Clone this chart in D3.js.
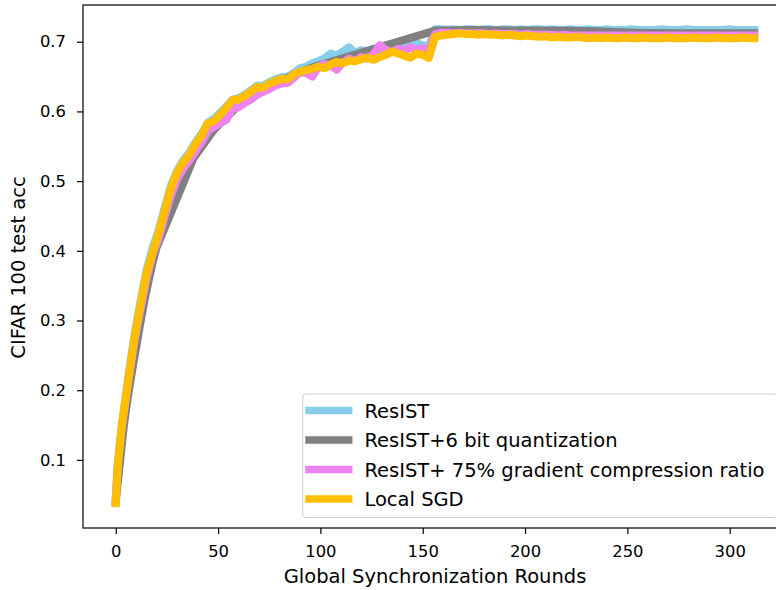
<!DOCTYPE html>
<html>
<head>
<meta charset="utf-8">
<script src="https://cdn.jsdelivr.net/npm/d3@7"></script>
<style>
  body { margin: 0; background: #fff; }
  svg { display: block; font-family: "DejaVu Sans", sans-serif; }
</style>
</head>
<body>
<div id="chart"></div>
<script>
// Chart data
// dense series: round 0, round 1, then every 3 rounds up to 312
const rounds = [0, 1].concat(d3.range(3, 313, 3));

const resistAcc = [
    0.045, 0.095,
    0.150, 0.216, 0.277, 0.326, 0.372, 0.404, 0.430, 0.463, 0.494,
    0.515, 0.530, 0.541, 0.556, 0.568, 0.584, 0.589, 0.598, 0.607, 0.617,
    0.619, 0.624, 0.630, 0.637, 0.637, 0.642, 0.646, 0.649, 0.650, 0.655,
    0.662, 0.664, 0.669, 0.672, 0.676, 0.683, 0.680, 0.686, 0.692, 0.684,
    0.688, 0.686, 0.690, 0.689, 0.691, 0.688, 0.694, 0.695, 0.697, 0.698,
    0.695, 0.693, 0.718, 0.718, 0.717, 0.718, 0.717, 0.718, 0.718, 0.717,
    0.718, 0.718, 0.717, 0.718, 0.718, 0.717, 0.718, 0.717, 0.718, 0.718,
    0.717, 0.718, 0.717, 0.717, 0.718, 0.717, 0.717, 0.718, 0.717, 0.717,
    0.718, 0.717, 0.717, 0.717, 0.718, 0.717, 0.717, 0.717, 0.717, 0.718,
    0.717, 0.717, 0.717, 0.718, 0.717, 0.717, 0.717, 0.717, 0.717, 0.717,
    0.718, 0.717, 0.717, 0.717, 0.717
];

// the quantized run was logged less often
const quantRounds = [0, 2, 4, 6, 8, 10, 12, 14, 16, 18, 20, 38, 48, 58, 68, 78, 87, 97,
    156, 175, 195, 215, 234, 254, 273, 293, 312];
const quantAcc = [0.040, 0.095, 0.150, 0.192, 0.228, 0.262, 0.296, 0.328, 0.356, 0.383, 0.405,
    0.533, 0.574, 0.603, 0.624, 0.640, 0.652, 0.664,
    0.716, 0.717, 0.716, 0.716, 0.715, 0.713, 0.712, 0.712, 0.712];

const compressAcc = [
    0.045, 0.095,
    0.148, 0.210, 0.268, 0.315, 0.360, 0.395, 0.418, 0.450, 0.480,
    0.503, 0.518, 0.530, 0.543, 0.556, 0.572, 0.578, 0.583, 0.588, 0.603,
    0.606, 0.612, 0.617, 0.624, 0.628, 0.632, 0.637, 0.640, 0.641, 0.648,
    0.657, 0.655, 0.650, 0.664, 0.668, 0.666, 0.660, 0.670, 0.676, 0.672,
    0.678, 0.676, 0.682, 0.695, 0.688, 0.685, 0.690, 0.687, 0.692, 0.689,
    0.690, 0.688, 0.711, 0.713, 0.713, 0.712, 0.713, 0.712, 0.712, 0.712,
    0.712, 0.711, 0.712, 0.711, 0.711, 0.711, 0.710, 0.711, 0.710, 0.710,
    0.710, 0.710, 0.709, 0.710, 0.709, 0.709, 0.709, 0.709, 0.709, 0.709,
    0.709, 0.709, 0.709, 0.709, 0.709, 0.709, 0.709, 0.709, 0.709, 0.709,
    0.709, 0.709, 0.709, 0.709, 0.709, 0.709, 0.709, 0.709, 0.709, 0.709,
    0.709, 0.709, 0.709, 0.709, 0.709
];

const localSgdAcc = [
    0.038, 0.090,
    0.150, 0.212, 0.272, 0.321, 0.367, 0.397, 0.425, 0.458, 0.490,
    0.512, 0.527, 0.538, 0.553, 0.566, 0.583, 0.586, 0.595, 0.605, 0.616,
    0.617, 0.622, 0.628, 0.635, 0.634, 0.640, 0.643, 0.647, 0.646, 0.653,
    0.657, 0.659, 0.661, 0.664, 0.662, 0.667, 0.671, 0.669, 0.673, 0.672,
    0.675, 0.677, 0.674, 0.678, 0.681, 0.686, 0.683, 0.680, 0.677, 0.683,
    0.681, 0.677, 0.707, 0.709, 0.710, 0.711, 0.712, 0.711, 0.711, 0.710,
    0.711, 0.710, 0.710, 0.709, 0.710, 0.709, 0.708, 0.709, 0.708, 0.707,
    0.708, 0.706, 0.707, 0.706, 0.706, 0.707, 0.706, 0.705, 0.706, 0.705,
    0.706, 0.705, 0.705, 0.706, 0.705, 0.705, 0.706, 0.705, 0.705, 0.705,
    0.706, 0.705, 0.705, 0.705, 0.706, 0.705, 0.705, 0.705, 0.706, 0.705,
    0.705, 0.705, 0.706, 0.705, 0.705
];

const seriesNames = ["ResIST", "ResIST+6 bit quantization", "ResIST+ 75% gradient compression ratio", "Local SGD"];
const seriesColors = ["#87ceeb", "#808080", "#ee82ee", "#ffbf00"];
const xTicks = [0, 50, 100, 150, 200, 250, 300];
const yTicks = [0.1, 0.2, 0.3, 0.4, 0.5, 0.6, 0.7];

// Layout
const width = 776;
const height = 590;
const plot = { left: 83, right: 787, top: 5, bottom: 528 };
const tickFont = 16.4;
const labelFont = 19.5;

const svg = d3.select("#chart").append("svg")
    .attr("width", width)
    .attr("height", height);

const xScale = d3.scaleLinear().domain([-16, 328]).range([plot.left, plot.right]);
const yScale = d3.scaleLinear().domain([0.0023, 0.7527]).range([plot.bottom, plot.top]);

// series table
const series = [
    rounds.map((r, i) => [r, resistAcc[i]]),
    quantRounds.map((r, i) => [r, quantAcc[i]]),
    rounds.map((r, i) => [r, compressAcc[i]]),
    rounds.map((r, i) => [r, localSgdAcc[i]])
];

svg.append("defs").append("clipPath")
    .attr("id", "plot-clip")
    .append("rect")
    .attr("x", plot.left).attr("y", plot.top)
    .attr("width", plot.right - plot.left)
    .attr("height", plot.bottom - plot.top);

const line = d3.line()
    .x(d => xScale(d[0]))
    .y(d => yScale(d[1]));

svg.append("g")
    .attr("clip-path", "url(#plot-clip)")
    .selectAll("path")
    .data(series)
    .enter().append("path")
    .attr("d", line)
    .attr("fill", "none")
    .attr("stroke", (d, i) => seriesColors[i])
    .attr("stroke-width", 8)
    .attr("stroke-linejoin", "round")
    .attr("stroke-linecap", "square");

// Axes
const xAxis = d3.axisBottom(xScale)
    .tickValues(xTicks)
    .tickSize(6)
    .tickPadding(11.4)
    .tickFormat(d3.format("d"));

const yAxis = d3.axisLeft(yScale)
    .tickValues(yTicks)
    .tickSize(6)
    .tickPadding(11)
    .tickFormat(d3.format(".1f"));

const xAxisGroup = svg.append("g")
    .attr("transform", `translate(0,${plot.bottom})`)
    .call(xAxis);

const yAxisGroup = svg.append("g")
    .attr("transform", `translate(${plot.left},0)`)
    .call(yAxis);

[xAxisGroup, yAxisGroup].forEach(g => {
    g.select(".domain").remove();
    g.selectAll(".tick line").attr("stroke", "#000").attr("stroke-width", 1.2);
    g.selectAll(".tick text")
        .attr("fill", "#000")
        .style("font-family", "DejaVu Sans")
        .style("font-size", `${tickFont}px`);
});

// spines (right one lies outside the cropped picture)
svg.append("rect")
    .attr("x", plot.left).attr("y", plot.top)
    .attr("width", plot.right - plot.left)
    .attr("height", plot.bottom - plot.top)
    .attr("fill", "none")
    .attr("stroke", "#000")
    .attr("stroke-width", 1.2);

// Axis labels
svg.append("text")
    .attr("x", (plot.left + plot.right) / 2)
    .attr("y", 583)
    .attr("text-anchor", "middle")
    .style("font-size", `${labelFont}px`)
    .text("Global Synchronization Rounds");

svg.append("text")
    .attr("transform", `translate(24.5, ${(plot.top + plot.bottom) / 2 + 1}) rotate(-90)`)
    .attr("text-anchor", "middle")
    .style("font-size", `${labelFont}px`)
    .text("CIFAR 100 test acc");

// Legend, lower right
const legend = svg.append("g");

legend.append("rect")
    .attr("x", 302.7).attr("y", 394)
    .attr("width", 474.3).attr("height", 123.5)
    .attr("rx", 3)
    .attr("fill", "#fff")
    .attr("fill-opacity", 0.8)
    .attr("stroke", "#cccccc")
    .attr("stroke-width", 1);

const rows = legend.selectAll("g.row")
    .data(seriesNames)
    .enter().append("g")
    .attr("class", "row")
    .attr("transform", (d, i) => `translate(0, ${410.5 + i * 29.5})`);

rows.append("line")
    .attr("x1", 309).attr("x2", 348.7)
    .attr("stroke", (d, i) => seriesColors[i])
    .attr("stroke-width", 7.5)
    .attr("stroke-linecap", "square");

rows.append("text")
    .attr("x", 364.4)
    .attr("dy", "0.36em")
    .style("font-size", `${labelFont}px`)
    .text(d => d);
</script>
</body>
</html>
